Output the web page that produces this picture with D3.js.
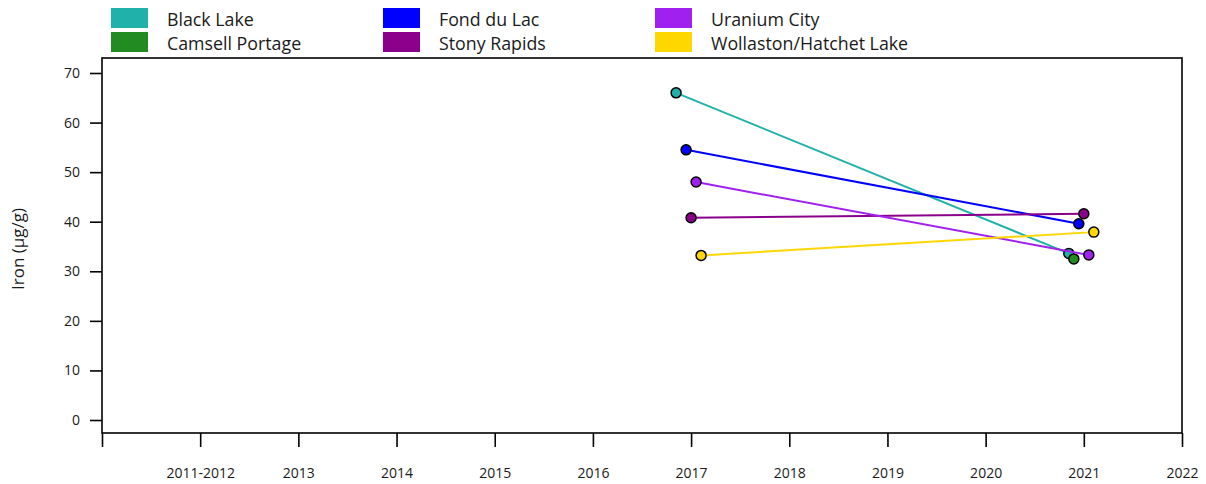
<!DOCTYPE html>
<html>
<head>
<meta charset="utf-8">
<script src="https://cdn.jsdelivr.net/npm/d3@7"></script>
<style>
  body { margin: 0; background: #fff; }
  svg { display: block; }
  text { font-family: "Open Sans", "Noto Sans", sans-serif; fill: #1a1a1a; }
</style>
</head>
<body>
<svg id="chart" width="1206" height="484"></svg>
<script>
// Sampling periods along the x axis (first slot is an unlabeled lead-in)
const periods = ["", "2011-2012", "2013", "2014", "2015", "2016", "2017", "2018", "2019", "2020", "2021", "2022"];

// Communities, in legend / dodge order
const communities = ["Black Lake", "Camsell Portage", "Fond du Lac", "Stony Rapids", "Uranium City", "Wollaston/Hatchet Lake"];
const colors = ["#20B2AA", "#228B22", "#0000FF", "#8B008B", "#A020F0", "#FFD700"];

// Iron concentration (µg/g) by community and period
const blackLake    = [{ period: "2017", value: 66.0 }, { period: "2021", value: 33.6 }];
const camsell      = [{ period: "2021", value: 32.5 }];
const fondDuLac    = [{ period: "2017", value: 54.5 }, { period: "2021", value: 39.6 }];
const stonyRapids  = [{ period: "2017", value: 40.8 }, { period: "2021", value: 41.6 }];
const uraniumCity  = [{ period: "2017", value: 48.0 }, { period: "2021", value: 33.3 }];
const wollaston    = [{ period: "2017", value: 33.2 }, { period: "2021", value: 37.9 }];

const yTicks = [0, 10, 20, 30, 40, 50, 60, 70];

const seriesValues = [blackLake, camsell, fondDuLac, stonyRapids, uraniumCity, wollaston];
const series = communities.map((name, i) => ({ name, color: colors[i], values: seriesValues[i] }));

const svg = d3.select("#chart");
const box = { left: 102, right: 1182, top: 58, bottom: 433 };

const x = d3.scalePoint().domain(periods).range([box.left, box.right]);
const dodge = d3.scalePoint().domain(communities).range([-15, 10]);
const y = d3.scaleLinear().domain([0, 70]).range([420, 73]);

// Plot frame
svg.append("rect")
  .attr("x", box.left).attr("y", box.top)
  .attr("width", box.right - box.left).attr("height", box.bottom - box.top)
  .attr("fill", "none").attr("stroke", "#000").attr("stroke-width", 1.6);

// X axis
const xAxis = svg.append("g")
  .attr("transform", `translate(0,${box.bottom})`)
  .call(d3.axisBottom(x).tickSize(14).tickPadding(21));
xAxis.select(".domain").remove();
xAxis.selectAll(".tick line").attr("stroke", "#000").attr("stroke-width", 1.6);
xAxis.selectAll(".tick text").attr("font-size", 14).attr("fill", "#1a1a1a")
  .style("font-family", "'Open Sans', sans-serif");

// Y axis
const yAxis = svg.append("g")
  .attr("transform", `translate(${box.left},0)`)
  .call(d3.axisLeft(y).tickValues(yTicks).tickSize(12).tickPadding(10));
yAxis.select(".domain").remove();
yAxis.selectAll(".tick line").attr("stroke", "#000").attr("stroke-width", 1.6);
yAxis.selectAll(".tick text").attr("font-size", 14).attr("fill", "#1a1a1a")
  .style("font-family", "'Open Sans', sans-serif");

svg.append("text")
  .attr("transform", "translate(24,249) rotate(-90)")
  .attr("text-anchor", "middle")
  .attr("font-size", 17)
  .text("Iron (µg/g)");

// Lines and points
const px = (d, name) => x(d.period) + dodge(name);
const line = d3.line().x(d => d.px).y(d => y(d.value));

const groups = svg.append("g").selectAll("g").data(series).join("g");
groups.append("path")
  .attr("d", s => line(s.values.map(v => ({ ...v, px: px(v, s.name) }))))
  .attr("fill", "none")
  .attr("stroke", s => s.color)
  .attr("stroke-width", 2);

groups.each(function (s) {
  d3.select(this).selectAll("circle").data(s.values).join("circle")
    .attr("cx", d => px(d, s.name))
    .attr("cy", d => y(d.value))
    .attr("r", 5)
    .attr("fill", s.color)
    .attr("stroke", "#000")
    .attr("stroke-width", 1.5);
});

// Legend: three columns, two rows
const legendCols = [111, 383, 655];
const legend = svg.append("g").selectAll("g").data(series).join("g")
  .attr("transform", (s, i) => `translate(${legendCols[Math.floor(i / 2)]},${8 + (i % 2) * 24})`);
legend.append("rect")
  .attr("width", 37).attr("height", 20)
  .attr("fill", s => s.color);
legend.append("text")
  .attr("x", 56).attr("y", 17.5)
  .attr("font-size", 17.8)
  .text(s => s.name);
</script>
</body>
</html>
